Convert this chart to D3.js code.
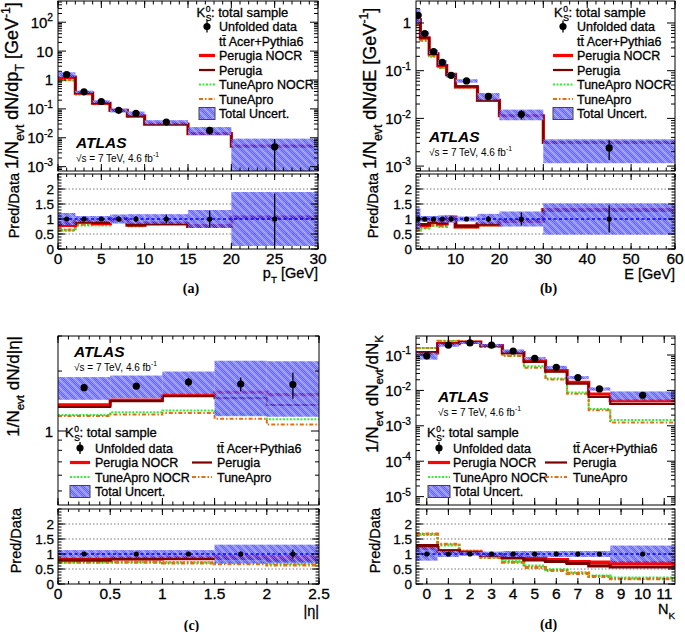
<!DOCTYPE html>
<html><head><meta charset="utf-8">
<script src="https://cdn.jsdelivr.net/npm/d3@7"></script>
<style>body{margin:0;background:#fff}svg text{font-family:"Liberation Sans",Arial,Helvetica,sans-serif;fill:#000}
.tx{stroke:#000;stroke-width:0.3px}</style>
</head><body><svg id="c" width="685" height="632"></svg>
<script>
// ---------- DATA ----------
// (a) pT
const ptEdges=[0,2,4,6,8,10,15,20,30];
const ptCenters=[1,3,5,7,9,12.5,17.5,25];
const ptData=[1.55,0.39,0.18,0.089,0.070,0.035,0.018,0.0049];
const ptDataErr=[0.03,0.03,0.03,0.08,0.10,0.15,0.28,0.85];
const ptUnc=[0.20,0.10,0.10,0.15,0.16,0.16,0.30,0.90];
const ptPerugiaNOCR=[0.80,0.90,0.87,1.00,0.82,0.85,0.77,1.05];
const ptPerugia=[0.84,0.92,0.88,1.02,0.80,0.85,0.77,1.05];
const ptTuneAproNOCR=[0.62,0.80,0.80,0.93,0.76,0.84,0.76,1.07];
const ptTuneApro=[0.64,0.82,0.82,0.95,0.78,0.84,0.76,1.07];
const ptTicks=[0,5,10,15,20,25,30];
// (b) E
const eEdges=[1,2,4,6,8,10,15,20,30,60];
const eCenters=[1.5,3,5,7,9,12.5,17.5,25,45];
const eData=[1.45,0.60,0.25,0.15,0.080,0.061,0.029,0.0122,0.0024];
const eDataErr=[0.05,0.03,0.03,0.03,0.08,0.03,0.10,0.22,0.45];
const eUnc=[0.35,0.10,0.10,0.12,0.12,0.08,0.17,0.25,0.52];
const ePerugiaNOCR=[0.80,0.80,0.90,0.85,1.05,0.75,0.82,0.93,1.30];
const ePerugia=[0.82,0.82,0.90,0.87,1.03,0.77,0.83,0.93,1.30];
const eTuneAproNOCR=[0.62,0.70,0.78,0.75,0.95,0.73,0.80,0.92,1.32];
const eTuneApro=[0.65,0.72,0.80,0.77,0.97,0.74,0.81,0.93,1.30];
const eTicks=[10,20,30,40,50,60];
// (c) |eta|
const etaEdges=[0,0.5,1,1.5,2,2.5];
const etaCenters=[0.25,0.75,1.25,1.75,2.25];
const etaData=[1.65,1.68,1.76,1.72,1.71];
const etaDataErr=[0.02,0.02,0.05,0.08,0.15];
const etaUnc=[0.13,0.13,0.13,0.31,0.31];
const etaPerugiaNOCR=[0.82,0.85,0.86,0.91,0.89];
const etaPerugia=[0.80,0.84,0.85,0.85,0.79];
const etaTuneAproNOCR=[0.73,0.74,0.72,0.71,0.67];
const etaTuneApro=[0.72,0.72,0.70,0.67,0.63];
const etaTicks=[0,0.5,1,1.5,2,2.5];
// (d) N_K
const nkEdges=[-0.5,0.5,1.5,2.5,3.5,4.5,5.5,6.5,7.5,8.5,11.5];
const nkCenters=[0,1,2,3,4,5,6,7,8,10];
const nkData=[0.095,0.19,0.22,0.19,0.13,0.080,0.045,0.023,0.011,0.0073];
const nkDataErr=[0.02,0.02,0.02,0.02,0.02,0.02,0.02,0.03,0.03,0.05];
const nkUnc=[0.22,0.10,0.06,0.08,0.10,0.10,0.10,0.10,0.10,0.28];
const nkPerugiaNOCR=[1.20,1.10,1.05,0.97,0.90,0.85,0.80,0.73,0.72,0.70];
const nkPerugia=[1.28,1.10,1.03,0.95,0.87,0.80,0.75,0.68,0.60,0.57];
const nkTuneAproNOCR=[1.65,1.30,1.10,0.90,0.75,0.60,0.48,0.38,0.27,0.20];
const nkTuneApro=[1.67,1.33,1.08,0.88,0.72,0.55,0.45,0.35,0.25,0.17];
const nkTicks=[0,1,2,3,4,5,6,7,8,9,10,11];
const ratioTicks=[0,0.5,1,1.5,2];
const ratioTickLabels=["0","0.5","1","1.5","2"];

// ---------- STYLE ----------
const SERIES=[
  {key:'anocr',name:'TuneApro NOCR',color:'#33ee33',w:2,dash:'2,1.5'},
  {key:'a',name:'TuneApro',color:'#e07010',w:2,dash:'4,2,1.5,2'},
  {key:'pnocr',name:'Perugia NOCR',color:'#ff0000',w:3.2,dash:null},
  {key:'p',name:'Perugia',color:'#7a0000',w:2.2,dash:null}
];
const svg=d3.select('#c');
const defs=svg.append('defs');
const pat=defs.append('pattern').attr('id','hatch').attr('patternUnits','userSpaceOnUse').attr('width',8).attr('height',8);
pat.append('rect').attr('width',8).attr('height',8).attr('fill','rgba(45,45,255,0.74)');
pat.append('path').attr('d','M0,0L8,8M-1,7L1,9M7,-1L9,1').attr('stroke','rgba(190,190,255,0.55)').attr('stroke-width',1.8);
const pat2=defs.append('pattern').attr('id','chk').attr('patternUnits','userSpaceOnUse').attr('width',2).attr('height',2);
pat2.append('rect').attr('width',1).attr('height',1).attr('fill','#fff').attr('opacity',0.3);
pat2.append('rect').attr('x',1).attr('y',1).attr('width',1).attr('height',1).attr('fill','#fff').attr('opacity',0.3);

function rich(t,parts,size){
  let cur=0;
  parts.forEach(p=>{
    const s=p[0],m=p[1]||'';
    const target=m==='sub'?0.32*size:m==='sup'?-0.42*size:0;
    t.append('tspan').attr('dy',target-cur).attr('font-size',m?size*0.68:size).text(s);
    cur=target;
  });
  return t;
}

function drawPanel(o){
  const g=svg.append('g');
  const x=d3.scaleLinear().domain(o.xDom).range([o.L,o.R]);
  const y=d3.scaleLog().domain(o.yDom).range([o.mB,o.mT]);
  const yr=d3.scaleLinear().domain([0,2.5]).range([o.rB,o.rT]);
  const cm='cm'+o.id, cr='cr'+o.id;
  defs.append('clipPath').attr('id',cm).append('rect').attr('x',o.L).attr('y',o.mT).attr('width',o.R-o.L).attr('height',o.mB-o.mT);
  defs.append('clipPath').attr('id',cr).append('rect').attr('x',o.L).attr('y',o.rT).attr('width',o.R-o.L).attr('height',o.rB-o.rT);
  const n=o.data.length;
  const bins=d3.range(n).map(i=>({x0:o.edges[i],x1:o.edges[i+1],c:o.centers[i],v:o.data[i],e:o.err[i],u:o.unc[i]}));
  const step=(vals,ys)=>{let p='';vals.forEach((v,i)=>{const a=x(o.edges[i]),b=x(o.edges[i+1]),yy=ys(v);p+=(i===0?`M${a},${yy}`:`V${yy}`)+`H${b}`;});return p;};

  // ---- main pad ----
  const mg=g.append('g').attr('clip-path',`url(#${cm})`);
  SERIES.forEach(s=>{
    const vals=bins.map((b,i)=>b.v*o.ratio[s.key][i]);
    mg.append('path').attr('d',step(vals,y)).attr('fill','none').attr('stroke',s.color).attr('stroke-width',s.w).attr('stroke-dasharray',s.dash);
  });
  ['url(#hatch)','url(#chk)'].forEach(f=>{
    mg.append('g').selectAll('rect').data(bins).join('rect')
      .attr('x',d=>x(d.x0)).attr('width',d=>x(d.x1)-x(d.x0))
      .attr('y',d=>y(d.v*(1+d.u))).attr('height',d=>y(Math.max(d.v*(1-d.u),1e-9))-y(d.v*(1+d.u)))
      .attr('fill',f);
  });
  mg.append('g').selectAll('line').data(bins).join('line')
    .attr('x1',d=>x(d.c)).attr('x2',d=>x(d.c)).attr('y1',d=>y(d.v*(1+d.e))).attr('y2',d=>y(Math.max(d.v*(1-d.e),1e-9)))
    .attr('stroke','#000').attr('stroke-width',1.3);
  mg.append('g').selectAll('circle').data(bins).join('circle')
    .attr('cx',d=>x(d.c)).attr('cy',d=>y(d.v)).attr('r',3.6).attr('fill','#000');

  // ---- ratio pad ----
  const rg=g.append('g').attr('clip-path',`url(#${cr})`);
  [0.5,1.5,2].forEach(v=>rg.append('line').attr('x1',o.L).attr('x2',o.R).attr('y1',yr(v)).attr('y2',yr(v)).attr('stroke','#555').attr('stroke-width',0.8).attr('stroke-dasharray','1.5,2'));
  SERIES.forEach(s=>{
    rg.append('path').attr('d',step(o.ratio[s.key],yr)).attr('fill','none').attr('stroke',s.color).attr('stroke-width',s.w+0.8).attr('stroke-dasharray',s.dash);
  });
  ['url(#hatch)','url(#chk)'].forEach(f=>{
    rg.append('g').selectAll('rect').data(bins).join('rect')
      .attr('x',d=>x(d.x0)).attr('width',d=>x(d.x1)-x(d.x0))
      .attr('y',d=>yr(1+d.u)).attr('height',d=>yr(1-d.u)-yr(1+d.u)).attr('fill',f);
  });
  rg.append('line').attr('x1',o.L).attr('x2',o.R).attr('y1',yr(1)).attr('y2',yr(1)).attr('stroke','#0000ff').attr('stroke-width',1.6).attr('stroke-dasharray','3,2.5');
  rg.append('g').selectAll('line').data(bins).join('line')
    .attr('x1',d=>x(d.c)).attr('x2',d=>x(d.c)).attr('y1',d=>yr(1+d.e)).attr('y2',d=>yr(1-d.e))
    .attr('stroke','#000').attr('stroke-width',1.3);
  rg.append('g').selectAll('circle').data(bins).join('circle')
    .attr('cx',d=>x(d.c)).attr('cy',yr(1)).attr('r',2.6).attr('fill','#000');

  // ---- frames & ticks ----
  const ax=g.append('g').attr('stroke','#000').attr('stroke-width',1);
  [[o.mT,o.mB],[o.rT,o.rB]].forEach(([t,b])=>ax.append('rect').attr('x',o.L).attr('y',t).attr('width',o.R-o.L).attr('height',b-t).attr('fill','none'));
  const vt=(xs,t,b,len)=>xs.forEach(v=>{const xx=x(v);ax.append('line').attr('x1',xx).attr('x2',xx).attr('y1',b).attr('y2',b-len);ax.append('line').attr('x1',xx).attr('x2',xx).attr('y1',t).attr('y2',t+len);});
  const ht=(ys,sc,len)=>ys.forEach(v=>{const yy=sc(v);ax.append('line').attr('x1',o.L).attr('x2',o.L+len).attr('y1',yy).attr('y2',yy);ax.append('line').attr('x1',o.R).attr('x2',o.R-len).attr('y1',yy).attr('y2',yy);});
  const inX=v=>v>=o.xDom[0]-1e-9&&v<=o.xDom[1]+1e-9;
  const xMaj=d3.range(o.xTickStart,o.xDom[1]+1e-9,o.xMajor).filter(inX);
  const xMin=d3.range(o.xMinStart,o.xDom[1]+1e-9,o.xMinor).filter(inX);
  vt(xMaj,o.mT,o.mB,7);vt(xMin,o.mT,o.mB,3.5);
  vt(xMaj,o.rT,o.rB,6);vt(xMin,o.rT,o.rB,3);
  const lo=Math.log10(o.yDom[0]),hi=Math.log10(o.yDom[1]);
  const majY=[],minY=[];
  for(let d=Math.floor(lo);d<=Math.ceil(hi);d++){
    const p=Math.pow(10,d);
    if(p>=o.yDom[0]&&p<=o.yDom[1])majY.push(d);
    for(let k=2;k<=9;k++){const v=k*p;if(v>=o.yDom[0]&&v<=o.yDom[1])minY.push(v);}
  }
  ht(majY.map(d=>Math.pow(10,d)),y,8);ht(minY,y,4);
  ht(ratioTicks,yr,7);ht(d3.range(0,2.51,0.1),yr,3.5);

  // ---- labels ----
  majY.forEach(d=>{
    const t=g.append('text').attr('class','tx').attr('x',o.L-5).attr('y',y(Math.pow(10,d))+5.5).attr('text-anchor','end').attr('font-size',15);
    if(d===0)t.text('1');else if(d===1)t.text('10');else rich(t,[['10'],[String(d),'sup']],15);
  });
  ratioTicks.forEach((v,i)=>g.append('text').attr('class','tx').attr('x',o.L-4).attr('y',yr(v)+5).attr('text-anchor','end').attr('font-size',13.5).text(ratioTickLabels[i]));
  o.xLabels.forEach(v=>{
    g.append('text').attr('class','tx').attr('x',x(v)).attr('y',o.rB+15).attr('text-anchor','middle').attr('font-size',15.5).text(String(v));
  });
  rich(g.append('text').attr('class','tx').attr('x',o.R).attr('y',o.rB+o.xTitleDy).attr('text-anchor','end'),o.xTitle,14.5);
  rich(g.append('text').attr('class','tx').attr('transform',`translate(${o.yTitleX},${o.yTitleY}) rotate(-90)`).attr('text-anchor',o.yTitleAnchor),o.yTitle,o.yTitleSize||18);
  g.append('text').attr('class','tx').attr('transform',`translate(${o.rTitleX},${o.rT-1}) rotate(-90)`).attr('text-anchor','end').attr('font-size',14.5).text('Pred/Data');
  g.append('text').attr('x',(o.L+o.R)/2+3).attr('y',o.capY).attr('text-anchor','middle').attr('font-weight','bold').attr('font-size',14).style('font-family','"Liberation Serif","Times New Roman",serif').text(o.cap);
  g.append('text').attr('x',o.atlas[0]).attr('y',o.atlas[1]).attr('font-size',15.5).attr('font-weight','bold').attr('font-style','italic').text('ATLAS');
  rich(g.append('text').attr('x',o.atlas[0]).attr('y',o.atlas[1]+13.5),[['\u221As = 7 TeV, 4.6 fb'],['-1','sup']],10);
  legend(g,o.leg);
}

function header(g,xx,yy){
  const fs=13;
  g.append('text').attr('class','tx').attr('x',xx).attr('y',yy).attr('font-size',fs).text('K');
  g.append('text').attr('class','tx').attr('x',xx+9.2).attr('y',yy-5).attr('font-size',8.5).text('0');
  g.append('text').attr('class','tx').attr('x',xx+9.2).attr('y',yy+3.8).attr('font-size',8.5).text('S');
  g.append('text').attr('class','tx').attr('x',xx+14.5).attr('y',yy).attr('font-size',fs).text(': total sample');
}
function symbol(g,kind,x0,x1,yc){
  const xm=(x0+x1)/2;
  if(kind==='data'){g.append('line').attr('x1',xm).attr('x2',xm).attr('y1',yc-6).attr('y2',yc+6).attr('stroke','#000').attr('stroke-width',1.3);
    g.append('circle').attr('cx',xm).attr('cy',yc).attr('r',3.6).attr('fill','#000');}
  else if(kind==='unc'){['url(#hatch)','url(#chk)'].forEach(f=>g.append('rect').attr('x',x0).attr('y',yc-6).attr('width',x1-x0).attr('height',12).attr('fill',f));
    g.append('rect').attr('x',x0).attr('y',yc-6).attr('width',x1-x0).attr('height',12).attr('fill','none').attr('stroke','#444').attr('stroke-width',1);}
  else {const s=SERIES.find(q=>q.key===kind);g.append('line').attr('x1',x0).attr('x2',x1).attr('y1',yc).attr('y2',yc).attr('stroke',s.color).attr('stroke-width',s.w).attr('stroke-dasharray',s.dash);}
}
function entry(g,e,sx0,sx1,tx,yc){
  if(e.kind)symbol(g,e.kind,sx0,sx1,yc);
  g.append('text').attr('class','tx').attr('x',tx).attr('y',yc+4.5).attr('font-size',12.5).text(e.label);
}
const L_DATA={kind:'data',label:'Unfolded data'},L_MC={kind:null,label:'tt\u0304 Acer+Pythia6'},
  L_PN={kind:'pnocr',label:'Perugia NOCR'},L_P={kind:'p',label:'Perugia'},L_AN={kind:'anocr',label:'TuneApro NOCR'},L_A={kind:'a',label:'TuneApro'},L_U={kind:'unc',label:'Total Uncert.'};
function legend(g,l){
  header(g,l.hx,l.hy);
  if(l.type==='col'){
    [L_DATA,L_MC,L_PN,L_P,L_AN,L_A,L_U].forEach((e,i)=>entry(g,e,l.sx0,l.sx1,l.tx,l.y0+i*l.dy));
  } else {
    [L_DATA,L_PN,L_AN,L_U].forEach((e,i)=>entry(g,e,l.sx0,l.sx1,l.tx,l.y0+i*l.dy));
    [L_MC,L_P,L_A].forEach((e,i)=>entry(g,e,l.sx0b,l.sx1b,l.txb,l.y0+i*l.dy));
  }
}

drawPanel({id:'a',L:58,R:318,mT:1,mB:171,rT:174,rB:249,xDom:[0,30],yDom:[Math.pow(10,-3.15),Math.pow(10,2.734)],
  edges:ptEdges,centers:ptCenters,data:ptData,err:ptDataErr,unc:ptUnc,
  ratio:{pnocr:ptPerugiaNOCR,p:ptPerugia,anocr:ptTuneAproNOCR,a:ptTuneApro},
  xTickStart:0,xMajor:5,xMinStart:0,xMinor:1,xLabels:ptTicks,
  xTitle:[['p'],['T','sub'],[' [GeV]']],xTitleDy:29,
  yTitle:[['1/N'],['evt','sub'],[' dN/dp'],['T','sub'],[' [GeV'],['-1','sup'],[']']],yTitleX:18,yTitleY:169,yTitleAnchor:'start',rTitleX:19,
  cap:'(a)',capY:293,atlas:[76,148],
  leg:{type:'col',hx:196.5,hy:17,sx0:199,sx1:215,tx:219,y0:26.5,dy:14.5}});
drawPanel({id:'b',L:416,R:675,mT:1,mB:171,rT:174,rB:249,xDom:[1,60],yDom:[Math.pow(10,-3.103),Math.pow(10,0.461)],
  edges:eEdges,centers:eCenters,data:eData,err:eDataErr,unc:eUnc,
  ratio:{pnocr:ePerugiaNOCR,p:ePerugia,anocr:eTuneAproNOCR,a:eTuneApro},
  xTickStart:10,xMajor:10,xMinStart:2,xMinor:2,xLabels:eTicks,
  xTitle:[['E [GeV]']],xTitleDy:30,
  yTitle:[['1/N'],['evt','sub'],[' dN/dE [GeV'],['-1','sup'],[']']],yTitleX:376,yTitleY:169,yTitleAnchor:'start',rTitleX:378,
  cap:'(b)',capY:293,atlas:[429,142],
  leg:{type:'col',hx:554,hy:17,sx0:553,sx1:573,tx:577,y0:26.5,dy:14.5}});
drawPanel({id:'c',L:58,R:319,mT:336,mB:505,rT:509,rB:584,xDom:[0,2.5],yDom:[0.425,3],
  edges:etaEdges,centers:etaCenters,data:etaData,err:etaDataErr,unc:etaUnc,
  ratio:{pnocr:etaPerugiaNOCR,p:etaPerugia,anocr:etaTuneAproNOCR,a:etaTuneApro},
  xTickStart:0,xMajor:0.5,xMinStart:0,xMinor:0.1,xLabels:etaTicks,
  xTitle:[['|\u03b7|']],xTitleDy:32,
  yTitle:[['1/N'],['evt','sub'],[' dN/d|\u03b7|']],yTitleX:19,yTitleY:336,yTitleAnchor:'end',yTitleSize:17,rTitleX:21,
  cap:'(c)',capY:630,atlas:[74,357],
  leg:{type:'two',hx:65,hy:437,sx0:70,sx1:90,tx:95,sx0b:192,sx1b:212,txb:217,y0:448,dy:14.5}});
drawPanel({id:'d',L:416,R:675,mT:336,mB:505,rT:509,rB:584,xDom:[-0.5,11.5],yDom:[Math.pow(10,-5.237),Math.pow(10,-0.463)],
  edges:nkEdges,centers:nkCenters,data:nkData,err:nkDataErr,unc:nkUnc,
  ratio:{pnocr:nkPerugiaNOCR,p:nkPerugia,anocr:nkTuneAproNOCR,a:nkTuneApro},
  xTickStart:0,xMajor:1,xMinStart:0,xMinor:1,xLabels:nkTicks,
  xTitle:[['N'],['K','sub']],xTitleDy:30,
  yTitle:[['1/N'],['evt','sub'],[' dN'],['evt','sub'],['/dN'],['K','sub']],yTitleX:378,yTitleY:335,yTitleAnchor:'end',yTitleSize:17,rTitleX:380,
  cap:'(d)',capY:629,atlas:[438,402],
  leg:{type:'two',hx:427,hy:437,sx0:428,sx1:450,tx:453,sx0b:545,sx1b:567,txb:573,y0:448,dy:14.5}});
</script></body></html>
